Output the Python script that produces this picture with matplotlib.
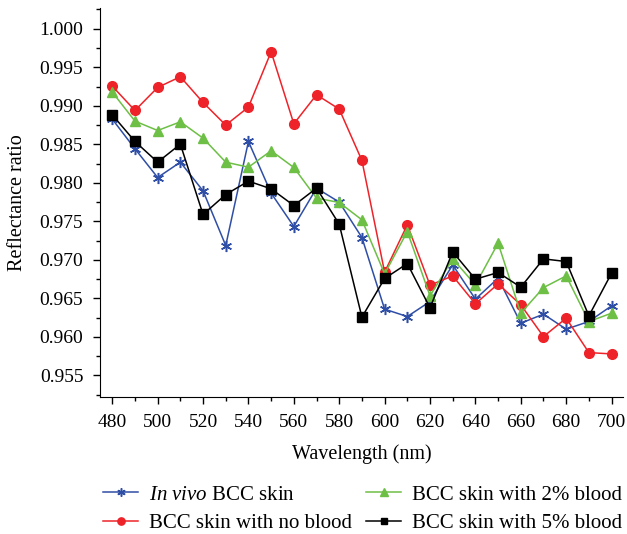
import numpy as np
import matplotlib
matplotlib.use('Agg')
import matplotlib.pyplot as plt
from matplotlib.ticker import MultipleLocator

plt.rcParams['font.family'] = 'Liberation Serif'
plt.rcParams['mathtext.fontset'] = 'custom'
plt.rcParams['mathtext.rm'] = 'Liberation Serif'
plt.rcParams['mathtext.it'] = 'Liberation Serif:italic'

wavelength = np.arange(480, 701, 10)

in_vivo = [0.98827, 0.98442, 0.98069, 0.98268, 0.97896, 0.97186, 0.98537, 0.97866,
           0.97433, 0.97930, 0.97750, 0.97290, 0.96360, 0.96264, 0.96459, 0.96935,
           0.96490, 0.96762, 0.96178, 0.96295, 0.96100, 0.96200, 0.96403]
no_blood = [0.99255, 0.98939, 0.99238, 0.99377, 0.99043, 0.98749, 0.98983, 0.99701,
            0.98766, 0.99143, 0.98957, 0.98290, 0.96840, 0.97455, 0.96671, 0.96792,
            0.96429, 0.96688, 0.96416, 0.96004, 0.96243, 0.95796, 0.95779]
blood_2 = [0.99178, 0.98801, 0.98679, 0.98792, 0.98580, 0.98268, 0.98203, 0.98416,
           0.98199, 0.97801, 0.97745, 0.97519, 0.96818, 0.97368, 0.96532, 0.97013,
           0.96675, 0.97217, 0.96308, 0.96640, 0.96792, 0.96199, 0.96308]
blood_5 = [0.98883, 0.98537, 0.98268, 0.98502, 0.97589, 0.97848, 0.98022, 0.97922,
           0.97705, 0.97931, 0.97463, 0.96256, 0.96758, 0.96952, 0.96377, 0.97104,
           0.96749, 0.96836, 0.96645, 0.97013, 0.96978, 0.96273, 0.96827]

fig = plt.figure(figsize=(6.27, 5.34), dpi=100)
ax = fig.add_axes([0.1595, 0.2566, 0.834, 0.7285])

ax.plot(wavelength, in_vivo, color='#2f4ea6', lw=1.1, marker=(6, 2, 0), ms=8, mew=1.1,
        label=r'$\it{In\ vivo}$ BCC skin')
ax.plot(wavelength, no_blood, color='#ee2329', lw=1.1, marker='o', ms=7,
        label='BCC skin with no blood')
ax.plot(wavelength, blood_2, color='#6dbf45', lw=1.1, marker='^', ms=7.5,
        label='BCC skin with 2% blood')
ax.plot(wavelength, blood_5, color='black', lw=1.1, marker='s', ms=6.5,
        label='BCC skin with 5% blood')

ax.set_xlim(474.6, 705)
ax.set_ylim(0.9522, 1.0027)
ax.xaxis.set_major_locator(MultipleLocator(20))
ax.xaxis.set_minor_locator(MultipleLocator(10))
ax.yaxis.set_major_locator(MultipleLocator(0.005))
ax.yaxis.set_minor_locator(MultipleLocator(0.0025))
ax.yaxis.set_major_formatter(matplotlib.ticker.FormatStrFormatter('%.3f'))

for s in ['top', 'right']:
	ax.spines[s].set_visible(False)
ax.tick_params(which='both', direction='out', labelsize=14, width=1)
ax.tick_params(which='major', length=5, pad=7)
ax.tick_params(which='minor', length=3)

ax.set_xlabel('Wavelength (nm)', fontsize=14.5, labelpad=10)
ax.set_ylabel('Reflectance ratio', fontsize=14.5, labelpad=9)

leg = ax.legend(loc='upper center', bbox_to_anchor=(0.503, -0.205), ncol=2, frameon=False,
                fontsize=15, handlelength=1.68, columnspacing=0.67, handletextpad=0.53,
                labelspacing=0.42, borderaxespad=0, markerscale=0.75)

fig.savefig('out.png', dpi=100)
plt.close(fig)
